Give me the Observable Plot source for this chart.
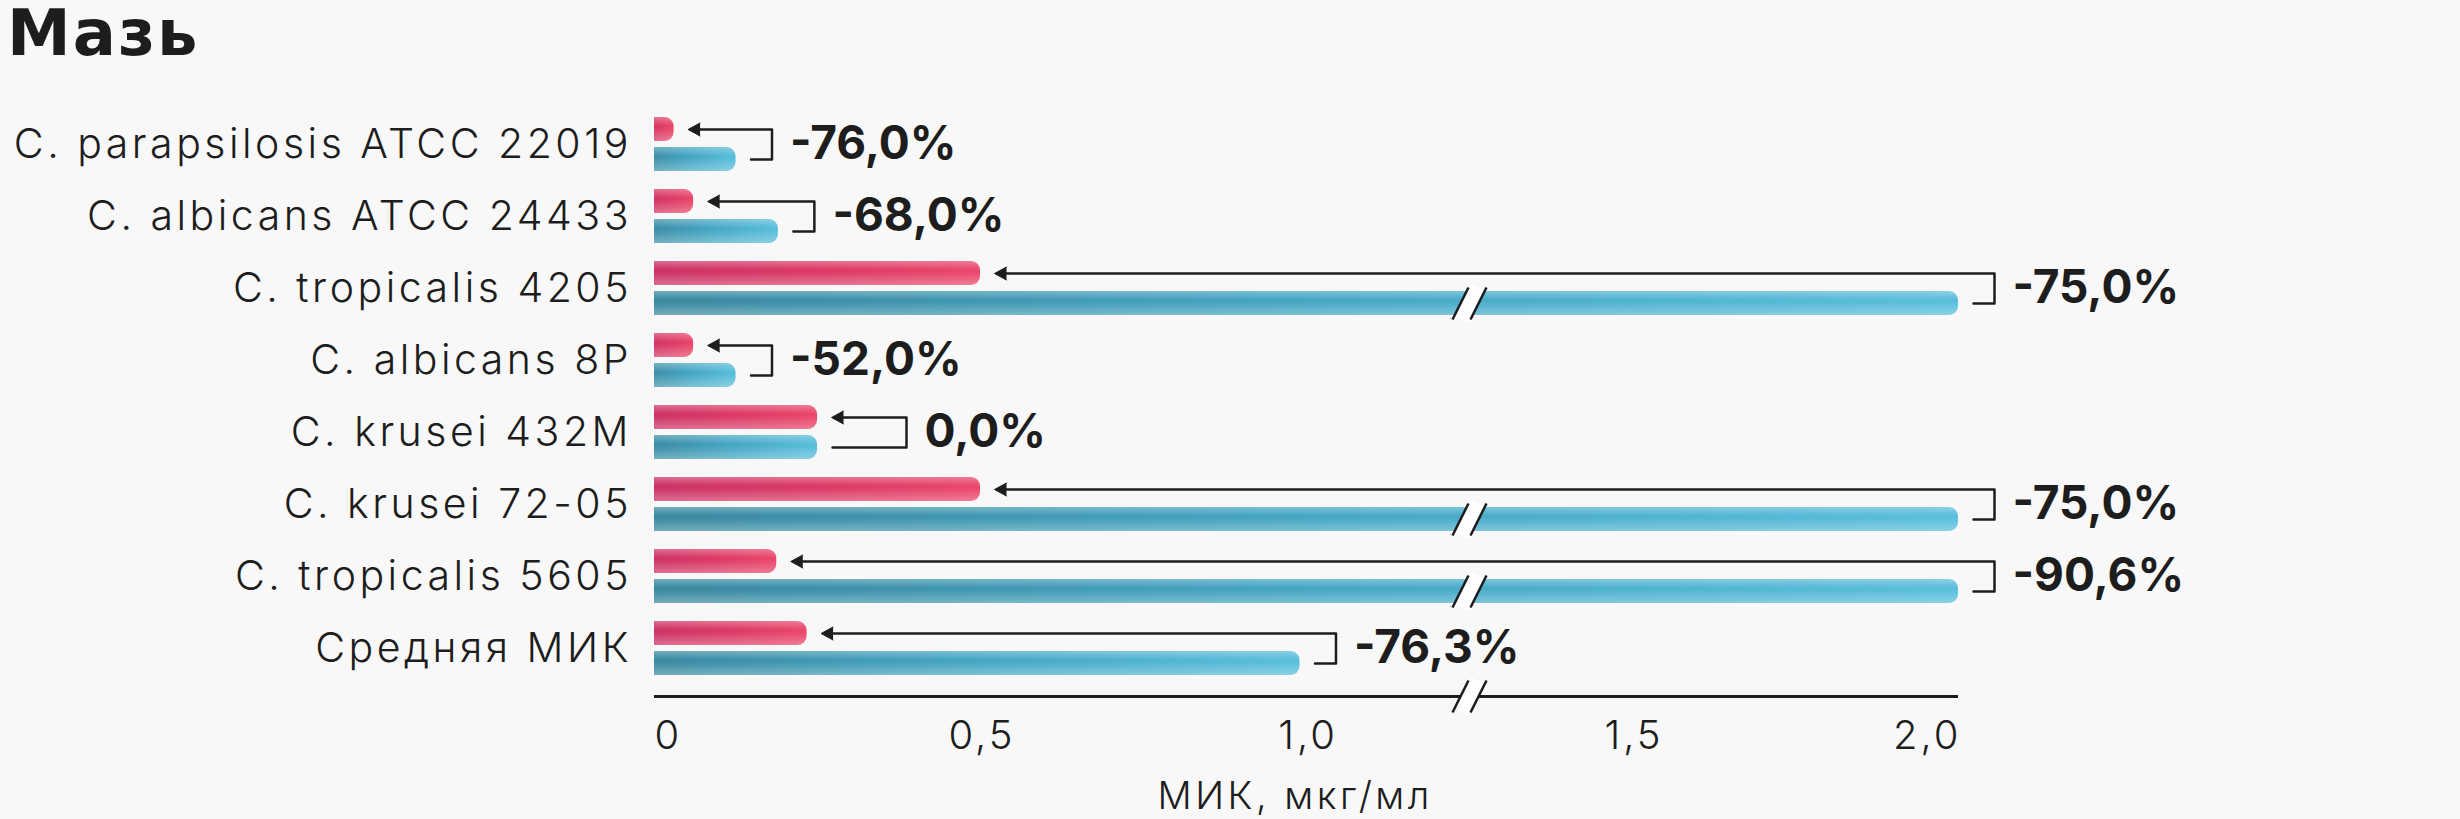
<!DOCTYPE html>
<html><head><meta charset="utf-8">
<script src="https://cdn.jsdelivr.net/npm/d3@7"></script>
<script src="https://cdn.jsdelivr.net/npm/@observablehq/plot@0.6"></script>
<style>
html,body{margin:0;padding:0;background:#f8f8f8;}
body{width:2460px;height:819px;overflow:hidden;font-family:Inter,"Noto Sans",sans-serif;color:#1d1d1d;}
#title{height:66px;font-family:"DejaVu Sans",Inter,sans-serif;font-size:64px;font-weight:700;line-height:66px;padding-left:7px;letter-spacing:2px;box-sizing:border-box;}
#chart svg{display:block;}
</style></head><body>
<div id="title">Мазь</div>
<div id="chart"></div>
<script>
const strains = [
  "C. parapsilosis ATCC 22019",
  "C. albicans ATCC 24433",
  "C. tropicalis 4205",
  "C. albicans 8P",
  "C. krusei 432M",
  "C. krusei 72-05",
  "C. tropicalis 5605",
  "Средняя МИК"
];
const micOintment = [0.03, 0.06, 0.5, 0.06, 0.25, 0.5, 0.1875, 0.234];
const micBase     = [0.125, 0.19, 2.0, 0.125, 0.25, 2.0, 2.0, 0.99];
const changeLabels = ["-76,0%", "-68,0%", "-75,0%", "-52,0%", "0,0%", "-75,0%", "-90,6%", "-76,3%"];
const tickValues = [0, 0.5, 1, 1.5, 2];
const tickLabels = ["0", "0,5", "1,0", "1,5", "2,0"];
const breakValue = 1.25;
const axisTitle = "МИК, мкг/мл";

const W = 2460, H = 753;
const PX = 2 / 1304;           // x data units per pixel
const RY = 1 / 72;             // y row units per pixel
const yRedOff = -15 * RY, yBlueOff = 15 * RY, half = 12 * RY;
const axisY = 552 * RY;
const tickY = 592 * RY;
const titleY = 652 * RY;

const rows = strains.map((s, i) => {
  const t = micOintment[i], b = micBase[i];
  const bx = Math.max(t, b) + (t === b ? 89 : 36) * PX;
  return {i, strain: s, t, b, bx, label: changeLabels[i]};
});

const bracket = rows.flatMap(r => [
  {i: r.i, x: r.b + 15 * PX, y: r.i + yBlueOff},
  {i: r.i, x: r.bx, y: r.i + yBlueOff},
  {i: r.i, x: r.bx, y: r.i + yRedOff},
  {i: r.i, x: r.t + 20 * PX, y: r.i + yRedOff}
]);

const broken = rows.filter(r => r.b > breakValue).map(r => r.i + yBlueOff).concat([axisY]);

function breakMarks(ys) {
  const dy = 16 * RY;
  return [
    Plot.link(ys, {x1: () => breakValue - 8 * PX, y1: d => d + dy, x2: () => breakValue + 8 * PX, y2: d => d - dy, stroke: "#ffffff", strokeWidth: 15, strokeLinecap: "butt"}),
    Plot.link(ys, {x1: () => breakValue - 17 * PX, y1: d => d + dy, x2: () => breakValue - 1 * PX, y2: d => d - dy, stroke: "#1d1d1d", strokeWidth: 2.5}),
    Plot.link(ys, {x1: () => breakValue + 1 * PX, y1: d => d + dy, x2: () => breakValue + 17 * PX, y2: d => d - dy, stroke: "#1d1d1d", strokeWidth: 2.5})
  ];
}

const arrowHeads = (typeof Plot.spike === "function")
  ? Plot.vector(rows, {x: d => d.t + 14 * PX, y: d => d.i + yRedOff, rotate: -90, length: 12, shape: "spike", r: 6.5, anchor: "end", fill: "#1d1d1d", stroke: "#1d1d1d", strokeWidth: 1})
  : Plot.text(rows, {x: d => d.t + 12 * PX, y: d => d.i + yRedOff, text: () => "◀", textAnchor: "start", fontSize: 14, fontFamily: "DejaVu Sans", fill: "#1d1d1d"});

const barRed = {x1: () => -14 * PX, x2: "t", y1: d => d.i + yRedOff - half, y2: d => d.i + yRedOff + half, rx: 9, clip: true};
const barBlue = {x1: () => -14 * PX, x2: "b", y1: d => d.i + yBlueOff - half, y2: d => d.i + yBlueOff + half, rx: 9, clip: true};

const LS_LABEL = 3.5, LS_TICK = 3, LS_TITLE = 3.5;

const chart = Plot.plot({
  width: W, height: H,
  marginLeft: 654, marginRight: W - 1958, marginTop: 0, marginBottom: 0,
  style: {background: "#f8f8f8", fontFamily: "Inter, 'Noto Sans', sans-serif", color: "#1d1d1d"},
  x: {domain: [0, 2], axis: null},
  y: {domain: [0, 7], range: [78, 78 + 7 * 72], axis: null},
  marks: [
    Plot.rect(rows, {...barRed, fill: "url(#gRed)"}),
    Plot.rect(rows, {...barRed, fill: "url(#gGloss)"}),
    Plot.rect(rows, {...barBlue, fill: "url(#gBlue)"}),
    Plot.rect(rows, {...barBlue, fill: "url(#gGloss)"}),
    Plot.ruleY([axisY], {x1: 0, x2: 2, stroke: "#1d1d1d", strokeWidth: 3}),
    ...breakMarks(broken),
    Plot.line(bracket, {x: "x", y: "y", z: "i", stroke: "#1d1d1d", strokeWidth: 2.5}),
    arrowHeads,
    Plot.text(rows, {x: () => 0, y: "i", text: "strain", textAnchor: "end", dx: -26 + LS_LABEL, fontSize: 41, fontWeight: 300, fill: "#1d1d1d"}),
    Plot.text(rows, {x: d => d.bx + 18 * PX, y: "i", text: "label", textAnchor: "start", fontSize: 46, fontWeight: 700, fill: "#1d1d1d"}),
    Plot.text(tickValues.slice(0, 1), {x: d => d, y: () => tickY, text: d => tickLabels[tickValues.indexOf(d)], textAnchor: "start", fontSize: 40, fontWeight: 300, fill: "#1d1d1d"}),
    Plot.text(tickValues.slice(1, -1), {x: d => d, y: () => tickY, text: d => tickLabels[tickValues.indexOf(d)], textAnchor: "middle", dx: LS_TICK / 2, fontSize: 40, fontWeight: 300, fill: "#1d1d1d"}),
    Plot.text(tickValues.slice(-1), {x: d => d, y: () => tickY, text: d => tickLabels[tickValues.indexOf(d)], textAnchor: "end", dx: LS_TICK, fontSize: 40, fontWeight: 300, fill: "#1d1d1d"}),
    Plot.text([axisTitle], {x: () => 0.98, y: () => titleY, text: d => d, dx: LS_TITLE / 2, fontSize: 38, fontWeight: 300, fill: "#1d1d1d"})
  ]
});

const svg = d3.select(chart);
svg.selectAll("text").each(function() {
  const s = this.textContent;
  if (strains.includes(s)) this.style.letterSpacing = LS_LABEL + "px";
  else if (tickLabels.includes(s)) this.style.letterSpacing = LS_TICK + "px";
  else if (s === axisTitle) this.style.letterSpacing = LS_TITLE + "px";
});
const defs = svg.insert("defs", ":first-child");
function grad(id, stops, vertical) {
  const g = defs.append("linearGradient").attr("id", id)
    .attr("x1", 0).attr("y1", 0).attr("x2", vertical ? 0 : 1).attr("y2", vertical ? 1 : 0);
  stops.forEach(([o, c, a]) => g.append("stop").attr("offset", o).attr("stop-color", c).attr("stop-opacity", a == null ? 1 : a));
}
grad("gRed", [[0, "#c92f63"], [0.55, "#dc3864"], [1, "#ea4568"]]);
grad("gBlue", [[0, "#37879e"], [0.55, "#45a8c6"], [1, "#58bedc"]]);
grad("gGloss", [[0, "#ffffff", 0.3], [0.38, "#ffffff", 0], [0.55, "#ffffff", 0.06], [1, "#ffffff", 0.3]], true);
document.getElementById("chart").appendChild(chart);
</script>
</body></html>
